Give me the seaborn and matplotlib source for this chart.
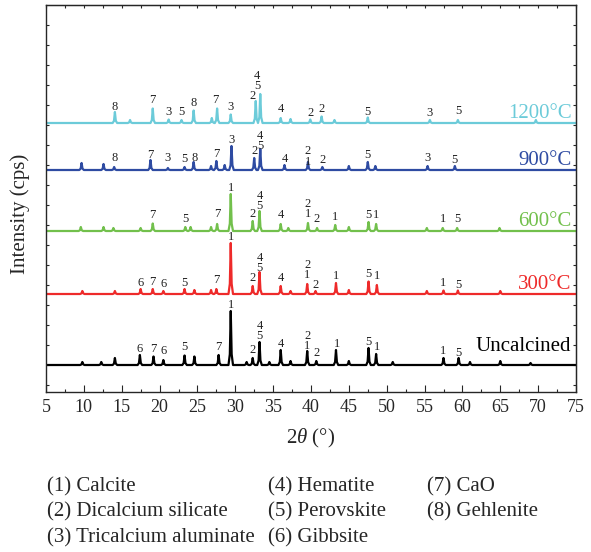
import numpy as np
import pandas as pd
import matplotlib
matplotlib.use("Agg")
import matplotlib.pyplot as plt
import seaborn as sns
from matplotlib.ticker import MultipleLocator

# ---- data (intensity in arbitrary units, traces stacked) ----
samples = ["Uncalcined", "300°C", "600°C", "900°C", "1200°C"]
colors = ["#000000", "#ee2a2a", "#72c04c", "#2e4ba2", "#6ccbd9"]
baseline = [27, 98, 161, 222, 269]

# peak positions (2theta) and heights above each trace's baseline
uncal_pos = [9.8, 12.3, 14.1, 17.4, 19.2, 20.5, 23.3, 24.6, 27.8, 29.4, 31.5, 32.3, 33.2, 34.5,
             36.0, 37.3, 39.5, 40.7, 43.3, 45.0, 47.6, 48.6, 50.8, 57.5, 59.5, 61.0, 65.0, 69.0]
uncal_h = [3, 3, 7, 10, 8.5, 5, 9.5, 8.5, 10, 54, 3, 7, 23, 3,
           15, 4, 14, 4, 15, 4, 17, 11, 3, 7, 7, 3, 4, 2]

c300_pos = [9.8, 14.1, 17.5, 19.1, 20.5, 23.3, 24.6, 26.8, 27.5, 29.4, 32.3, 33.2, 36.0, 37.3,
            39.5, 40.6, 43.3, 45.0, 47.6, 48.7, 55.3, 57.5, 59.4, 65.0]
c300_h = [3, 3, 5, 5, 3, 5, 4, 4, 5, 51, 8, 22, 8, 3,
          10, 3, 11, 4, 12.5, 9, 3, 3.5, 3.5, 3]

c600_pos = [9.6, 12.6, 13.9, 17.5, 19.1, 23.4, 24.1, 26.8, 27.6, 29.4, 32.3, 33.2, 36.0, 37.0,
            39.6, 40.8, 43.2, 45.0, 47.6, 48.6, 55.3, 57.4, 59.3, 64.9]
c600_h = [4, 4, 3, 3, 7.5, 4, 4, 4, 7, 37, 10, 20, 7, 3,
          8, 3, 6, 4, 9, 7, 3, 3, 3, 3]

c900_pos = [9.7, 12.6, 14.0, 18.8, 21.1, 23.3, 24.5, 26.8, 27.5, 28.6, 29.5, 32.5, 33.3, 36.5,
            39.6, 41.5, 45.0, 47.5, 48.5, 55.4, 59.0]
c900_h = [7, 6, 3, 10, 2, 3, 8, 4, 9, 5, 24, 12, 21, 5,
          8, 3, 4, 8, 4, 4, 4]

c1200_pos = [14.1, 16.1, 19.1, 21.2, 22.9, 24.5, 26.9, 27.6, 29.4, 32.7, 33.3, 36.0, 37.3, 39.9,
             41.4, 43.1, 47.5, 55.7, 59.4, 69.7]
c1200_h = [11, 3, 14.5, 3.5, 3, 12.5, 5, 14.5, 8.5, 22, 29, 5, 4, 3.5,
           6.5, 3, 5.5, 3, 3, 3]

# phase labels: position, text, height of label baseline above trace baseline
uncal_lab = [(17.4, "6", 12), (19.2, "7", 12), (20.5, "6", 9.5), (23.3, "5", 13.5), (27.8, "7", 13.5),
             (29.4, "1", 56), (32.3, "2", 11), (33.2, "4\n5", 25), (36.0, "4", 17), (39.5, "2\n1", 15),
             (40.7, "2", 8.5), (43.4, "1", 17), (47.6, "5", 18.6), (48.7, "1", 13.5), (57.5, "1", 9.5),
             (59.5, "5", 8.5)]
c300_lab = [(17.5, "6", 7.4), (19.1, "7", 8), (20.5, "6", 5.7), (23.3, "5", 6.8), (27.5, "7", 10),
            (29.4, "1", 53), (32.3, "2", 12), (33.2, "4\n5", 22), (36.0, "4", 12), (39.5, "2\n1", 15),
            (40.6, "2", 5), (43.3, "1", 14), (47.6, "5", 16), (48.7, "1", 14), (57.5, "1", 6.8),
            (59.4, "5", 5)]
c600_lab = [(19.1, "7", 12), (23.4, "5", 8.5), (27.6, "7", 13), (29.4, "1", 39), (32.3, "2", 13),
            (33.2, "4\n5", 21), (36.0, "4", 12), (39.6, "2\n1", 13), (40.8, "2", 8.5), (43.2, "1", 10),
            (47.6, "5", 12), (48.6, "1", 12), (57.4, "1", 8.5), (59.3, "5", 8.5)]
c900_lab = [(14.0, "8", 7.8), (18.8, "7", 11), (21.1, "3", 7.8), (23.3, "5", 6.8), (24.6, "8", 7.8),
            (27.5, "7", 12), (29.5, "3", 25.7), (32.5, "2", 15.5), (33.3, "4\n5", 19.6), (36.5, "4", 6.8),
            (39.6, "2\n1", 4.4), (41.5, "2", 6), (47.5, "5", 11), (55.4, "3", 7.8), (59.0, "5", 6)]
c1200_lab = [(14.1, "8", 12.5), (19.1, "7", 18.6), (21.2, "3", 6.8), (22.9, "5", 6.8), (24.5, "8", 15.9),
             (27.4, "7", 18.6), (29.4, "3", 11.8), (32.3, "2", 22.6), (32.9, "4\n5", 32.8), (36.0, "4", 10),
             (39.9, "2", 5.7), (41.4, "2", 10), (47.5, "5", 6.8), (55.7, "3", 5.7), (59.4, "5", 8.4)]

phases = ["(1) Calcite", "(2) Dicalcium silicate", "(3) Tricalcium aluminate",
          "(4) Hematite", "(5) Perovskite", "(6) Gibbsite",
          "(7) CaO", "(8) Gehlenite"]

peak_pos = [uncal_pos, c300_pos, c600_pos, c900_pos, c1200_pos]
peak_h = [uncal_h, c300_h, c600_h, c900_h, c1200_h]
labels = [uncal_lab, c300_lab, c600_lab, c900_lab, c1200_lab]

# simple peak outline (offsets in 2theta, fraction of height)
shape_dx = [-0.3, -0.12, 0.0, 0.12, 0.3]
shape_f = [0.0, 0.2, 1.0, 0.2, 0.0]

rows = []
for name, base, pos, hts in zip(samples, baseline, peak_pos, peak_h):
    rows.append((name, 5.0, base))
    for p, h in sorted(zip(pos, hts)):
        for dx, f in zip(shape_dx, shape_f):
            rows.append((name, p + dx, base + f * h))
    rows.append((name, 75.0, base))
df = pd.DataFrame(rows, columns=["sample", "theta", "intensity"])

sns.set_style("ticks")
plt.rcParams["font.family"] = ["Liberation Serif", "DejaVu Serif"]
plt.rcParams["mathtext.fontset"] = "custom"
plt.rcParams["mathtext.rm"] = "Liberation Serif"
plt.rcParams["mathtext.it"] = "Liberation Serif:italic"

fig = plt.figure(figsize=(5.91, 5.52), dpi=100)
ax = fig.add_axes([46 / 591, 1 - 392 / 552, 530 / 591, 387 / 552])

sns.lineplot(data=df, x="theta", y="intensity", hue="sample", palette=dict(zip(samples, colors)),
             sort=False, estimator=None, lw=1.6, legend=False, ax=ax)

for name, col, base, labs in zip(samples, colors, baseline, labels):
    for p, t, h in labs:
        ax.text(p, base + h + 1, t, ha="center", va="baseline", fontsize=9, linespacing=0.8, color="#222222")
    off = 14 if name == "Uncalcined" else 5
    ax.text(74.4, base + off, name, ha="right", va="baseline", fontsize=15, color=col)

ax.set_xlim(5, 75)
ax.set_ylim(0, 387)
ax.xaxis.set_major_locator(MultipleLocator(5))
ax.xaxis.set_minor_locator(MultipleLocator(2.5))
ax.set_yticks(np.arange(7, 387, 20))
ax.set_yticklabels([])
ax.tick_params(axis="x", which="major", direction="in", length=4.8, width=0.8, labelsize=13, pad=5)
ax.tick_params(axis="x", which="minor", direction="in", length=2.4, width=0.8)
ax.tick_params(axis="y", direction="in", length=2, width=0.8)
for s in ax.spines.values():
    s.set_linewidth(1.0)

top = ax.secondary_xaxis("top")
top.xaxis.set_major_locator(MultipleLocator(2.5))
top.tick_params(direction="in", length=2, width=0.8, labeltop=False)
right = ax.secondary_yaxis("right")
right.set_yticks(np.arange(7, 387, 20))
right.tick_params(direction="in", length=2, width=0.8, labelright=False)

ax.set_xlabel(r"2$\it{\theta}$ (°)", fontsize=15, labelpad=8)
ax.set_ylabel("Intensity (cps)", fontsize=15)
ax.yaxis.set_label_coords(-0.03, 0.46)

# phase key under the plot
col_x = [47, 268, 427]
row_y = [487, 512, 538]
for i, txt in enumerate(phases):
    c, r = divmod(i, 3)
    fig.text(col_x[c] / 591, 1 - row_y[r] / 552, txt, ha="left", va="center", fontsize=15)

fig.savefig("out.png", dpi=100)
